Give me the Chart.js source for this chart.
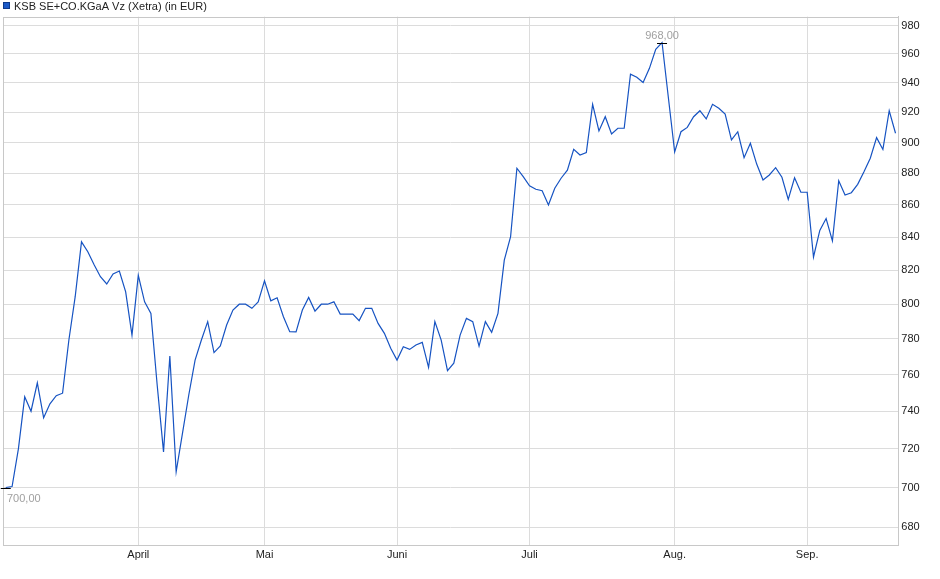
<!DOCTYPE html>
<html>
<head>
<meta charset="utf-8">
<script src="https://cdn.jsdelivr.net/npm/chart.js@4.4.1/dist/chart.umd.min.js"></script>
<style>
  html, body { margin: 0; padding: 0; background: #fff; }
  #chart { display: block; }
</style>
</head>
<body>
<canvas id="chart" width="940" height="579"></canvas>
<script>
// KSB Vz (Xetra), Schlusskurse je Handelstag, Anfang März bis Mitte Sep.
const titel = 'KSB SE+CO.KGaA Vz (Xetra) (in EUR)';

const kurse = [
  700, 700.5, 720, 747.8, 740, 755.5, 736.5, 744, 748.4, 749.8,
  779.4, 804.4, 837.2, 831.2, 823.3, 816.2, 811.9, 817.9, 819.6, 807.2,
  782.2, 817, 801.4, 794.7, 754, 718.4, 770.4, 708.1, 728.2, 748.8,
  768.1, 779.4, 789.9, 772.3, 776, 788, 796.6, 800, 800, 797.6,
  801.4, 813.8, 802, 803.8, 792.7, 784.1, 784, 796.6, 804, 796,
  800, 800, 801.4, 794.3, 794.3, 794.3, 790.5, 797.6, 797.6, 788.9,
  783.2, 774.7, 768.1, 775.6, 774.1, 776.6, 778.1, 764, 789.9, 779.4,
  762.2, 766.4, 782.2, 791.8, 789.9, 776, 789.9, 783.8, 794.7, 826.1,
  840.4, 883.3, 877.9, 872.1, 869.9, 869, 860, 870.5, 876.9, 882.1,
  895.5, 891.9, 893.4, 925.4, 907.6, 917.1, 905.6, 909.4, 909.4, 945.9,
  943.8, 940.2, 950, 963.3, 968, 930, 893.9, 907.1, 910, 917.1,
  921.1, 915.6, 925.4, 922.8, 918.9, 901.7, 907.1, 890.1, 899.5, 886,
  875.8, 879, 883.7, 877.5, 863.5, 877.2, 868, 868, 828, 844.2,
  851.5, 837.8, 875.3, 866.2, 867.7, 873, 881, 889.8, 903.2, 895.5,
  921.1, 906.1
];

// erster Handelstag jedes Monats (Index in kurse)
const monate = ['April', 'Mai', 'Juni', 'Juli', 'Aug.', 'Sep.'];
const monatsStart = [21, 41, 62, 83, 106, 127];

const yTicks = [680, 700, 720, 740, 760, 780, 800, 820, 840, 860, 880, 900, 920, 940, 960, 980];

const fmt = v => v.toFixed(2).replace('.', ',');

Chart.defaults.font.family = '"Liberation Sans", Arial, sans-serif';
Chart.defaults.font.size = 11;

// Rahmen, Titel und Hoch/Tief-Markierung
const extras = {
  id: 'extras',
  beforeDatasetsDraw(chart) {
    const { ctx, chartArea: a } = chart;
    ctx.save();
    ctx.strokeStyle = '#c8c8c8';
    ctx.lineWidth = 1;
    ctx.strokeRect(Math.round(a.left) + 0.5, Math.round(a.top) + 0.5,
      Math.round(a.right - a.left), Math.round(a.bottom - a.top));
    ctx.restore();
  },
  afterDraw(chart) {
    const { ctx, chartArea: a, scales } = chart;
    ctx.save();
    // Titel mit Legendenkästchen
    ctx.fillStyle = '#1c5ac8';
    ctx.fillRect(3, 2, 7, 7);
    ctx.strokeStyle = '#0e3a8c';
    ctx.lineWidth = 1;
    ctx.strokeRect(3.5, 2.5, 6, 6);
    ctx.fillStyle = '#222';
    ctx.textAlign = 'left';
    ctx.textBaseline = 'middle';
    ctx.font = '11px "Liberation Sans", Arial, sans-serif';
    ctx.fillText(titel, 14, 6.5);

    const hoch = Math.max(...kurse);
    const tief = Math.min(...kurse);
    const marken = [
      { i: kurse.indexOf(hoch), v: hoch, dy: -8 },
      { i: kurse.indexOf(tief), v: tief, dy: 10 }
    ];
    marken.forEach(m => {
      const px = scales.x.getPixelForValue(m.i);
      const py = Math.round(scales.y.getPixelForValue(m.v)) + 0.5;
      ctx.strokeStyle = '#000';
      ctx.beginPath();
      ctx.moveTo(px - 5, py);
      ctx.lineTo(px + 5, py);
      ctx.stroke();
      const txt = fmt(m.v);
      const w = ctx.measureText(txt).width;
      let cx = Math.max(px, a.left + 4 + w / 2);
      cx = Math.min(cx, a.right - 2 - w / 2);
      ctx.fillStyle = '#a0a0a0';
      ctx.textAlign = 'center';
      ctx.fillText(txt, cx, py + m.dy);
    });
    ctx.restore();
  }
};

const ctx = document.getElementById('chart').getContext('2d');
new Chart(ctx, {
  type: 'line',
  data: {
    datasets: [{
      label: titel,
      data: kurse.map((v, i) => ({ x: i, y: v })),
      borderColor: '#1653c2',
      borderWidth: 1.2,
      pointRadius: 0,
      tension: 0,
      fill: false
    }]
  },
  options: {
    responsive: false,
    animation: false,
    devicePixelRatio: 1,
    layout: { padding: { left: 3, top: 16.7, right: 0, bottom: 0 } },
    plugins: {
      legend: { display: false },
      tooltip: { enabled: false }
    },
    scales: {
      x: {
        type: 'linear',
        min: -0.44,
        max: 141.44,
        afterBuildTicks: s => { s.ticks = monatsStart.map(v => ({ value: v })); },
        afterFit: s => { s.height = 34; },
        ticks: {
          callback: v => monate[monatsStart.indexOf(v)],
          autoSkip: false,
          maxRotation: 0,
          padding: 3,
          color: '#222'
        },
        grid: { color: '#dcdcdc', drawTicks: false },
        border: { color: '#c8c8c8' }
      },
      y: {
        type: 'logarithmic',
        position: 'right',
        min: 671.3,
        max: 986.4,
        afterBuildTicks: s => { s.ticks = yTicks.map(v => ({ value: v })); },
        afterFit: s => { s.width = 41.7; },
        ticks: {
          callback: v => String(v),
          padding: 3,
          color: '#222'
        },
        grid: { color: '#dcdcdc', drawTicks: false },
        border: { color: '#c8c8c8' }
      }
    }
  },
  plugins: [extras]
});
</script>
</body>
</html>
